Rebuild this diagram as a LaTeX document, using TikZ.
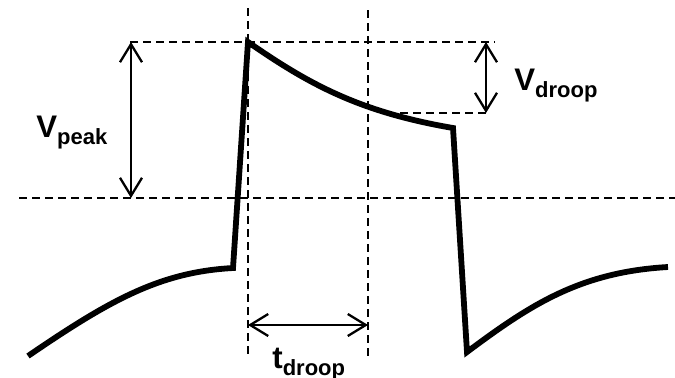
\documentclass[tikz,border=0pt]{standalone}
\usepackage{fontspec}
\setmainfont{Liberation Sans}
\usepackage{tikz}
\usetikzlibrary{arrows.meta, positioning}
\tikzstyle{guide}   = [dashed, dash pattern=on 4pt off 2.5pt, line width=1.25pt]
\tikzstyle{wave}    = [line width=2.9pt, line join=miter]
\tikzstyle{dim}     = [line width=1.15pt, {Straight Barb[length=9pt,width=11pt]}-{Straight Barb[length=9pt,width=11pt]}]
\tikzstyle{label}   = [inner sep=0pt, font=\bfseries]
\newcommand{\subval}[2]{{\fontsize{15.6}{18}\selectfont #1}\raisebox{-3.5pt}{\fontsize{11}{12}\selectfont #2}}

\begin{document}
\begin{tikzpicture}[x=0.5pt, y=-0.5pt]
    \useasboundingbox (0,0) rectangle (675,377);
    % key points
    \coordinate (start) at (28,356);
    \coordinate (rise)  at (233,268);
    \coordinate (peak)  at (248,42);
    \coordinate (fall)  at (453,128);
    \coordinate (low)   at (467,352);
    \coordinate (stop)  at (668,267);

    % guide lines
    \draw [guide] (248,8)   -- (248,356);
    \draw [guide] (368,10)  -- (368,356);
    \draw [guide] (130,42)  -- (495,42);
    \draw [guide] (19,198)  -- (675,198);
    \draw [guide] (387,113) -- (490,113);

    % waveform
    \draw [wave] (start) .. controls (110,300) and (160,272) .. (rise)
        -- (peak) .. controls (310,85) and (360,112) .. (fall)
        -- (low) .. controls (530,305) and (580,272) .. (stop);

    % dimensions
    \draw [dim] (131,42) -- (131,198);
    \draw [dim] (486,42) -- (486,113);
    \draw [dim] (248,325) -- (368,325);

    \node (vpeak)  [label, anchor=base west] at (36,137)  {\subval{V}{peak}};
    \node (vdroop) [label, anchor=base west] at (514,90)  {\subval{V}{droop}};
    \node (tdroop) [label, anchor=base west] at (272,368) {\subval{t}{droop}};
\end{tikzpicture}
\end{document}
